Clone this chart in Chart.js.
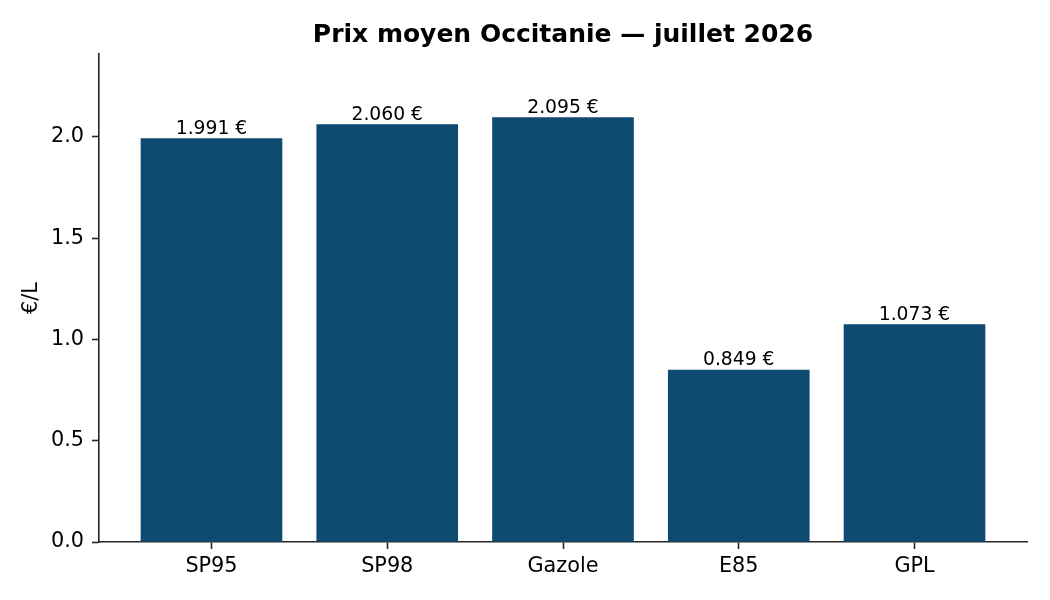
<!DOCTYPE html>
<html>
<head>
<meta charset="utf-8">
<script src="https://cdn.jsdelivr.net/npm/chart.js@4"></script>
<style>
  html, body { margin: 0; padding: 0; background: #fff; }
  #wrap { width: 1050px; height: 600px; }
</style>
</head>
<body>
<div id="wrap"><canvas id="chart" width="1050" height="600"></canvas></div>
<script>
// données
const carburants = ["SP95", "SP98", "Gazole", "E85", "GPL"];
const prix = [1.991, 2.060, 2.095, 0.849, 1.073];
const yTicks = [0.0, 0.5, 1.0, 1.5, 2.0];
const titre = "Prix moyen Occitanie — juillet 2026";

const barColor = "#0f4a72";
const axisColor = "#262626";
const font = "'DejaVu Sans', sans-serif";

// étiquettes au-dessus des barres + titre centré sur la zone de tracé
const valueLabels = {
  id: "valueLabels",
  afterDatasetsDraw(chart) {
    const ctx = chart.ctx;
    const meta = chart.getDatasetMeta(0);
    ctx.save();
    ctx.font = "18.75px " + font;
    ctx.fillStyle = "#000";
    ctx.textAlign = "center";
    ctx.textBaseline = "alphabetic";
    meta.data.forEach((bar, i) => {
      ctx.fillText(prix[i].toFixed(3) + " €", bar.x, bar.y - 5);
    });
    const area = chart.chartArea;
    ctx.font = "bold 25px " + font;
    ctx.fillText(titre, (area.left + area.right) / 2, 42);
    ctx.restore();
  },
};

new Chart(document.getElementById("chart"), {
  type: "bar",
  data: {
    datasets: [
      {
        data: prix.map((v, i) => ({ x: i, y: v })),
        backgroundColor: barColor,
        borderWidth: 0,
        barThickness: 141,
      },
    ],
  },
  options: {
    responsive: false,
    animation: false,
    layout: { padding: { top: 54, right: 23, bottom: 0, left: 0 } },
    plugins: {
      legend: { display: false },
      tooltip: { enabled: false },
    },
    scales: {
      x: {
        type: "linear",
        min: -0.64,
        max: 4.64,
        offset: false,
        afterFit: (axis) => {
          axis.height = 58;
        },
        afterBuildTicks: (axis) => {
          axis.ticks = carburants.map((_, i) => ({ value: i }));
        },
        ticks: {
          color: "#000",
          font: { family: font, size: 20.8 },
          padding: 5,
          maxRotation: 0,
          callback: (v) => carburants[v],
        },
        grid: {
          offset: false,
          drawOnChartArea: false,
          drawTicks: true,
          tickLength: 7,
          tickWidth: 1.6,
          color: axisColor,
        },
        border: { color: axisColor, width: 1.6 },
      },
      y: {
        min: 0,
        max: 2.409,
        afterFit: (axis) => {
          axis.width = 99;
        },
        afterBuildTicks: (axis) => {
          axis.ticks = yTicks.map((v) => ({ value: v }));
        },
        ticks: {
          color: "#000",
          font: { family: font, size: 20.8 },
          padding: 8,
          callback: (v) => v.toFixed(1),
        },
        title: {
          display: true,
          text: "€/L",
          color: "#000",
          font: { family: font, size: 20.8 },
          padding: { top: 19, bottom: 0 },
        },
        grid: {
          drawOnChartArea: false,
          drawTicks: true,
          tickLength: 7,
          tickWidth: 1.6,
          color: axisColor,
        },
        border: { color: axisColor, width: 1.6 },
      },
    },
  },
  plugins: [valueLabels],
});
</script>
</body>
</html>
